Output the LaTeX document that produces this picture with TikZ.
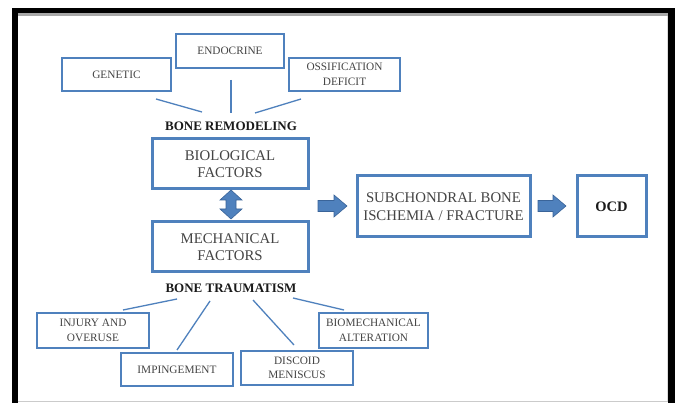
\documentclass[tikz,border=0pt]{standalone}
\usepackage{fontspec}
\setmainfont{Liberation Serif}
\definecolor{bblue}{HTML}{4F81BD}
\definecolor{dblue}{HTML}{3A6499}
\definecolor{txtgray}{HTML}{444444}
\definecolor{txtdark}{HTML}{1A1A1A}
\definecolor{framegray}{HTML}{A8A8A8}
\tikzset{
  thinbox/.style={draw=bblue, line width=1.6pt, fill=white, inner sep=0pt, align=center,
    text=txtgray, font=\fontsize{11.3}{14.5}\selectfont},
  thickbox/.style={draw=bblue, line width=3pt, fill=white, inner sep=0pt, align=center,
    text=txtgray, font=\fontsize{14.8}{17.5}\selectfont},
  blabel/.style={inner sep=0pt, text=txtdark, font=\fontsize{13}{15}\selectfont\bfseries},
  link/.style={draw=bblue, line width=1.3pt},
  blockarrow/.style={fill=bblue, draw=dblue, line width=0.6pt, line join=miter}
}
\begin{document}
\begin{tikzpicture}[x=1pt,y=-1pt]
\useasboundingbox (0,0) rectangle (678,403);
\fill[white] (0,0) rectangle (678,403);
% frame
\fill[black] (12,8) rectangle (18,403);
\fill[black] (12,8) rectangle (675,13);
\fill[black] (668,8) rectangle (675,403);
\fill[framegray] (18,13) rectangle (668,16);
\draw[framegray!60, line width=1pt] (18,401.5) -- (668,401.5);
\draw[framegray!40, line width=1pt] (667.5,16) -- (667.5,401);

% top boxes
\node[thinbox, minimum width=109, minimum height=33] (gen) at (116.5,74.5) {GENETIC};
\node[thinbox, minimum width=108, minimum height=34] (endo) at (230,51) {ENDOCRINE};
\node[thinbox, minimum width=111, minimum height=33] (ossi) at (344.5,74.5) {OSSIFICATION\\DEFICIT};
\node[blabel] (remod) at (231,126) {BONE REMODELING};

% main boxes
\node[thickbox, minimum width=156, minimum height=50] (bio) at (230,164) {BIOLOGICAL\\FACTORS};
\node[thickbox, minimum width=156, minimum height=50] (mech) at (230,247) {MECHANICAL\\FACTORS};
\node[blabel] (traum) at (231,288) {BONE TRAUMATISM};
\node[thickbox, minimum width=173, minimum height=61] (sub) at (443.5,206.5) {SUBCHONDRAL BONE\\ISCHEMIA / FRACTURE};
\node[thickbox, minimum width=69, minimum height=61, text=txtdark, font=\fontsize{14.5}{18}\selectfont\bfseries] (ocd) at (611.5,206.5) {OCD};

% bottom boxes
\node[thinbox, minimum width=112, minimum height=35] (inj) at (93,330.5) {INJURY AND\\OVERUSE};
\node[thinbox, minimum width=112, minimum height=33] (imp) at (177,369.5) {IMPINGEMENT};
\node[thinbox, minimum width=112, minimum height=34] (disc) at (297,368) {DISCOID\\MENISCUS};
\node[thinbox, minimum width=109, minimum height=35] (biom) at (373.5,330.5) {BIOMECHANICAL\\ALTERATION};

% link end points
\coordinate (g1) at (156,99);  \coordinate (g2) at (202,112);
\coordinate (e1) at (231,80);  \coordinate (e2) at (231,113);
\coordinate (o1) at (301,99);  \coordinate (o2) at (255,113);
\coordinate (i1) at (123,310); \coordinate (i2) at (177,299);
\coordinate (m1) at (177,350); \coordinate (m2) at (210,301);
\coordinate (d1) at (294,345); \coordinate (d2) at (253,300);
\coordinate (b1) at (344,310); \coordinate (b2) at (293,298);
\draw[link] (g1) -- (g2);
\draw[link] (e1) -- (e2);
\draw[link] (o1) -- (o2);
\draw[link] (i1) -- (i2);
\draw[link] (m1) -- (m2);
\draw[link] (d1) -- (d2);
\draw[link] (b1) -- (b2);

% double vertical arrow between bio and mech
\path[blockarrow] (231,190) -- (242,200) -- (236,200) -- (236,209) -- (242,209) -- (231,219)
  -- (220,209) -- (226,209) -- (226,200) -- (220,200) -- cycle;
% right arrows
\path[blockarrow] (318,200.5) -- (334,200.5) -- (334,195) -- (347,206) -- (334,217) -- (334,211.5) -- (318,211.5) -- cycle;
\path[blockarrow] (538,200.5) -- (553,200.5) -- (553,195) -- (566,206) -- (553,217) -- (553,211.5) -- (538,211.5) -- cycle;
\end{tikzpicture}
\end{document}
